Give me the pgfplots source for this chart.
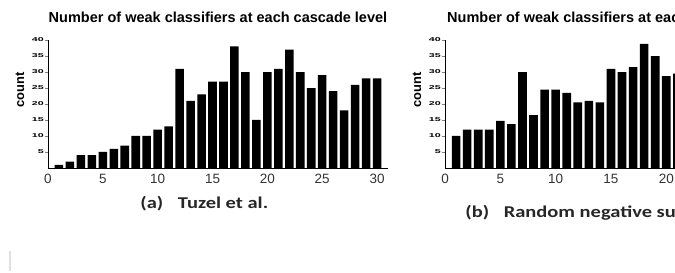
\documentclass[border=0pt]{standalone}
\usepackage{pgfplots}
\pgfplotsset{compat=1.18}
\usepackage{fontspec}
\setmainfont{Liberation Sans}
\newfontfamily\capfont{Carlito}
\pgfplotsset{
  weakstyle/.style={
    scale only axis, height=128pt,
    ymin=0, ymax=40,
    axis x line*=bottom, axis y line*=left,
    axis line style={-, line width=0.9pt},
    xtick={0,5,...,30}, ytick={5,10,...,40},
    /pgf/number format/assume math mode=true,
    x tick style={draw=none},
    y tick style={line width=0.6pt},
    tick align=outside, major tick length=3pt,
    xticklabel style={font=\fontsize{13.5}{14}\selectfont, text=black!80},
    yticklabel style={font=\bfseries\fontsize{5.6}{6}\selectfont, xscale=1.9, inner sep=0.5pt},
    title style={at={(axis description cs:0.5,1)}, anchor=center, yshift=17pt,
                 font=\bfseries\fontsize{14.5}{15}\selectfont},
    every axis y label/.style={at={(axis description cs:0,0.61)}, xshift=-28pt,
                 anchor=center, rotate=90, font=\bfseries\fontsize{12.9}{13}\selectfont},
    ylabel={count},
    title={Number of weak classifiers at each cascade level},
  },
}
\tikzset{capstyle/.style={anchor=base west, xscale=1.24, text=black!85,
                   font=\capfont\bfseries\fontsize{16.5}{17}\selectfont}}
\begin{document}
\begin{tikzpicture}
\useasboundingbox (0pt,0pt) rectangle (675pt,273pt);
\clip (0pt,0pt) rectangle (675pt,273pt);
\fill[white] (0pt,0pt) rectangle (675pt,273pt);
\draw[black!12, line width=1.2pt] (10pt,2pt) -- (10pt,22pt);
\begin{axis}[weakstyle, at={(48pt,105pt)}, anchor=south west, width=340pt, xmin=0, xmax=31.0]
\addplot[ybar, bar width=0.78, fill=black, draw=none] coordinates {
(1,1) (2,2) (3,4) (4,4) (5,5) (6,6) (7,7) (8,10) (9,10) (10,12)
(11,13) (12,31) (13,21) (14,23) (15,27) (16,27) (17,38) (18,30) (19,15) (20,30)
(21,31) (22,37) (23,30) (24,25) (25,29) (26,24) (27,18) (28,26) (29,28) (30,28)
};
\end{axis}
\begin{axis}[weakstyle, at={(445pt,105pt)}, anchor=south west, width=343pt, xmin=0, xmax=31.0]
\addplot[ybar, bar width=0.78, fill=black, draw=none] coordinates {
(1,10) (2,12) (3,12) (4,12) (5,14.7) (6,13.7) (7,30) (8,16.5) (9,24.5) (10,24.5)
(11,23.5) (12,20.5) (13,21) (14,20.5) (15,31) (16,30) (17,31.5) (18,38.8) (19,35) (20,28.7)
(21,29.5)
};
\end{axis}
\node[capstyle] at (136pt,64pt) {(a)\hspace{0.72em}Tuzel et al.};
\node[capstyle] at (461pt,55pt) {(b)\hspace{0.72em}Random negative subsampling};
\end{tikzpicture}
\end{document}
